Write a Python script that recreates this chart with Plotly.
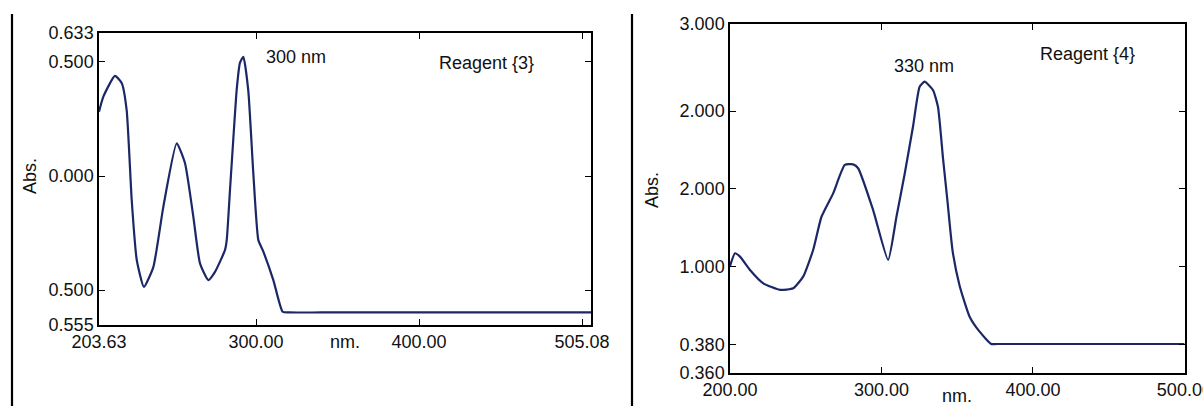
import plotly.graph_objects as go

# ---------------- data ----------------
# Reagent {3}
wl3 = [203.63, 206.3, 213.4, 217.6, 220.6, 223.7, 226.8, 231.2, 237.0, 243.1, 251.3, 256.4,
       261.5, 265.6, 270.7, 274.8, 280.9, 282.0, 284.0, 286.0, 288.1, 290.1, 292.2, 295.2,
       298.3, 301.4, 304.1, 310.6, 316.3, 320.0, 340.0, 420.0, 505.5]
abs3 = [0.282, 0.348, 0.439, 0.407, 0.289, -0.105, -0.368, -0.486, -0.398, -0.135, 0.143, 0.056,
        -0.178, -0.383, -0.456, -0.420, -0.325, -0.281, -0.061, 0.158, 0.377, 0.496, 0.523, 0.377,
        0.013, -0.281, -0.325, -0.456, -0.595, -0.598, -0.598, -0.598, -0.598]
x3_tickvals = [203.63, 300.0, 400.0, 500.0]
x3_ticktext = ["203.63", "300.00", "400.00", "505.08"]
y3_tickvals = [0.627, 0.5, 0.0, -0.5, -0.653]
y3_ticktext = ["0.633", "0.500", "0.000", "0.500", "0.555"]

# Reagent {4}
wl4 = [200.0, 203.3, 206.6, 213.2, 222.0, 233.0, 241.7, 248.3, 254.9, 260.4, 268.1, 275.8,
       281.3, 284.6, 294.5, 304.4, 309.9, 315.4, 320.8, 325.2, 328.5, 334.0, 337.3, 340.6,
       343.5, 347.0, 351.6, 358.2, 364.8, 372.5, 376.0, 390.0, 450.0, 500.0]
abs4 = [1.005, 1.088, 1.066, 0.981, 0.895, 0.853, 0.863, 0.938, 1.109, 1.322, 1.472, 1.654,
        1.658, 1.633, 1.365, 1.045, 1.322, 1.601, 1.899, 2.156, 2.188, 2.135, 2.027, 1.700,
        1.430, 1.100, 0.880, 0.681, 0.585, 0.506, 0.506, 0.506, 0.506, 0.506]
x4_tickvals = [200.0, 300.0, 400.0, 500.0]
x4_ticktext = ["200.00", "300.00", "400.00", "500.00"]
y4_tickvals = [2.558, 2.0, 1.5, 1.0, 0.5, 0.32]
y4_ticktext = ["3.000", "2.000", "2.000", "1.000", "0.380", "0.360"]

W, H = 1203, 406
LINE = "#1c2766"
FONT = "Liberation Sans, Arial, sans-serif"

def px(x):
    return x / W

def py(y):
    return 1 - y / H

fig = go.Figure()
fig.add_trace(go.Scatter(x=wl3, y=abs3, mode="lines", line=dict(color=LINE, width=2.2, shape="spline", smoothing=0.5),
                         xaxis="x", yaxis="y", showlegend=False, hoverinfo="skip"))
fig.add_trace(go.Scatter(x=wl4, y=abs4, mode="lines", line=dict(color=LINE, width=2.2, shape="spline", smoothing=0.5),
                         xaxis="x2", yaxis="y2", showlegend=False, hoverinfo="skip"))

axis_common = dict(showgrid=False, zeroline=False, showline=True, linecolor="black", linewidth=1.5,
                   mirror="ticks", ticks="inside", ticklen=6, tickwidth=1.3, tickcolor="black",
                   tickfont=dict(family=FONT, size=18, color="#111"), automargin=False,
                   ticklabeloverflow="allow")

fig.update_layout(
    width=W, height=H,
    margin=dict(l=0, r=0, t=0, b=0),
    paper_bgcolor="white", plot_bgcolor="white",
    xaxis=dict(domain=[px(99), px(591)], range=[203.63, 505.5], tickmode="array",
               tickvals=x3_tickvals, ticktext=x3_ticktext, anchor="y", **axis_common),
    yaxis=dict(domain=[py(325), py(33)], range=[-0.653, 0.627], tickmode="array",
               tickvals=y3_tickvals, ticktext=y3_ticktext, anchor="x", **axis_common),
    xaxis2=dict(domain=[px(730), px(1185)], range=[200, 500.4], tickmode="array",
                tickvals=x4_tickvals, ticktext=x4_ticktext, anchor="y2", **axis_common),
    yaxis2=dict(domain=[py(373), py(24)], range=[0.32, 2.558], tickmode="array",
                tickvals=y4_tickvals, ticktext=y4_ticktext, anchor="x2", **axis_common),
)

def note(text, x, y, size=18, angle=0):
    fig.add_annotation(text=text, x=px(x), y=py(y), xref="paper", yref="paper", showarrow=False,
                       xanchor="center", yanchor="middle", textangle=angle,
                       font=dict(family=FONT, size=size, color="#111"))

note("Abs.", 30, 176, angle=-90)
note("nm.", 345, 342)
note("300 nm", 296, 57)
note("Reagent {3}", 486, 63)
note("Abs.", 652, 190, angle=-90)
note("nm.", 957, 396)
note("330 nm", 924, 66)
note("Reagent {4}", 1087, 54)

# separator lines
for xv in (12, 632):
    fig.add_shape(type="line", xref="paper", yref="paper", x0=px(xv), x1=px(xv), y0=0, y1=py(14),
                  line=dict(color="black", width=2.2))

fig.write_html("out.html", config={"displayModeBar": False},
               post_script="document.body.style.margin='0';document.body.style.overflow='hidden';")
